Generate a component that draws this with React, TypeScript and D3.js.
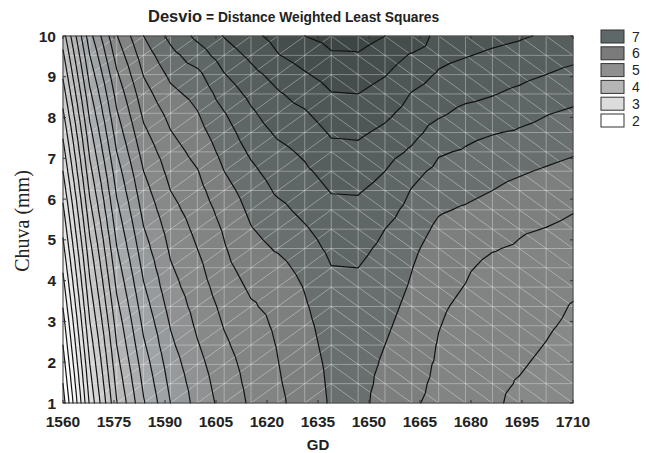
import * as d3 from "d3";

// grid nodes of the fitted surface (Distance Weighted Least Squares, 20 x 20)
const GD_NODES = [
  1560, 1567.9, 1575.8, 1583.7, 1591.6, 1599.5, 1607.4, 1615.3, 1623.2, 1631.1,
  1638.9, 1646.8, 1654.7, 1662.6, 1670.5, 1678.4, 1686.3, 1694.2, 1702.1, 1710,
];
const CHUVA_NODES = [
  1, 1.474, 1.947, 2.421, 2.895, 3.368, 3.842, 4.316, 4.789, 5.263,
  5.737, 6.211, 6.684, 7.158, 7.632, 8.105, 8.579, 9.053, 9.526, 10,
];

// Desvio values, rows from Chuva = 10 (top) down to Chuva = 1, columns GD 1560 -> 1710
const DESVIO = [
  [3.90, 4.93, 5.59, 6.00, 6.25, 6.445, 6.61, 6.745, 6.87, 7.00, 7.06, 7.08, 7.00, 6.96, 6.72, 6.69, 6.65, 6.62, 6.58, 6.54],
  [3.76, 4.80, 5.48, 5.90, 6.14, 6.30, 6.50, 6.64, 6.79, 6.89, 6.98, 6.985, 6.90, 6.78, 6.65, 6.61, 6.57, 6.54, 6.49, 6.45],
  [3.63, 4.68, 5.37, 5.81, 6.04, 6.15, 6.39, 6.54, 6.67, 6.78, 6.88, 6.89, 6.81, 6.68, 6.58, 6.53, 6.49, 6.45, 6.40, 6.35],
  [3.50, 4.56, 5.27, 5.72, 5.95, 6.06, 6.29, 6.45, 6.58, 6.67, 6.79, 6.80, 6.72, 6.59, 6.51, 6.45, 6.41, 6.36, 6.30, 6.26],
  [3.37, 4.45, 5.18, 5.64, 5.86, 5.99, 6.19, 6.37, 6.51, 6.58, 6.70, 6.71, 6.64, 6.53, 6.43, 6.35, 6.32, 6.26, 6.21, 6.17],
  [3.24, 4.34, 5.09, 5.56, 5.79, 5.93, 6.12, 6.30, 6.43, 6.50, 6.62, 6.63, 6.56, 6.46, 6.32, 6.25, 6.21, 6.18, 6.14, 6.09],
  [3.12, 4.24, 5.00, 5.48, 5.72, 5.86, 6.06, 6.23, 6.35, 6.43, 6.55, 6.555, 6.48, 6.37, 6.22, 6.18, 6.13, 6.10, 6.06, 6.02],
  [3.00, 4.14, 4.91, 5.40, 5.66, 5.79, 6.00, 6.16, 6.29, 6.37, 6.47, 6.48, 6.40, 6.26, 6.15, 6.11, 6.06, 6.02, 5.98, 5.94],
  [2.88, 4.04, 4.83, 5.33, 5.60, 5.74, 5.93, 6.09, 6.23, 6.31, 6.41, 6.415, 6.34, 6.19, 6.08, 6.05, 6.00, 5.95, 5.91, 5.87],
  [2.76, 3.94, 4.75, 5.26, 5.54, 5.69, 5.87, 6.04, 6.15, 6.25, 6.35, 6.355, 6.27, 6.14, 6.02, 5.98, 5.93, 5.87, 5.85, 5.81],
  [2.65, 3.84, 4.67, 5.19, 5.48, 5.645, 5.82, 5.99, 6.08, 6.18, 6.29, 6.295, 6.20, 6.09, 5.96, 5.91, 5.87, 5.82, 5.795, 5.76],
  [2.54, 3.74, 4.59, 5.12, 5.43, 5.60, 5.785, 5.935, 6.02, 6.12, 6.24, 6.245, 6.16, 6.04, 5.91, 5.86, 5.81, 5.78, 5.74, 5.72],
  [2.43, 3.65, 4.51, 5.05, 5.38, 5.55, 5.75, 5.88, 5.94, 6.06, 6.195, 6.20, 6.12, 6.005, 5.87, 5.82, 5.76, 5.74, 5.70, 5.67],
  [2.32, 3.56, 4.43, 4.98, 5.33, 5.51, 5.70, 5.83, 5.88, 6.01, 6.15, 6.175, 6.09, 5.98, 5.845, 5.795, 5.72, 5.705, 5.67, 5.63],
  [2.21, 3.47, 4.35, 4.91, 5.27, 5.47, 5.65, 5.78, 5.855, 5.98, 6.11, 6.15, 6.06, 5.95, 5.82, 5.77, 5.69, 5.685, 5.645, 5.59],
  [2.10, 3.38, 4.27, 4.84, 5.21, 5.43, 5.61, 5.73, 5.83, 5.955, 6.08, 6.13, 6.03, 5.92, 5.805, 5.75, 5.675, 5.665, 5.62, 5.57],
  [2.00, 3.29, 4.20, 4.77, 5.16, 5.385, 5.57, 5.70, 5.81, 5.935, 6.06, 6.11, 6.00, 5.89, 5.79, 5.735, 5.66, 5.64, 5.595, 5.54],
  [1.90, 3.20, 4.13, 4.70, 5.10, 5.34, 5.53, 5.67, 5.795, 5.915, 6.04, 6.09, 5.97, 5.86, 5.78, 5.72, 5.645, 5.615, 5.57, 5.51],
  [1.80, 3.12, 4.06, 4.64, 5.05, 5.30, 5.50, 5.65, 5.78, 5.90, 6.03, 6.08, 5.94, 5.84, 5.77, 5.71, 5.635, 5.59, 5.545, 5.48],
  [1.70, 3.04, 3.99, 4.58, 5.00, 5.27, 5.47, 5.63, 5.76, 5.89, 6.02, 6.07, 5.91, 5.82, 5.76, 5.70, 5.625, 5.565, 5.52, 5.46],
];

const LEVELS = [
  1.8, 2.0, 2.2, 2.4, 2.6, 2.8, 3.0, 3.2, 3.4, 3.6, 3.8, 4.0, 4.2, 4.4,
  4.6, 4.8, 5.0, 5.2, 5.4, 5.6, 5.8, 6.0, 6.2, 6.4, 6.6, 6.8, 7.0, 7.2,
];

const GD_TICKS = [1560, 1575, 1590, 1605, 1620, 1635, 1650, 1665, 1680, 1695, 1710];
const CHUVA_TICKS = [1, 2, 3, 4, 5, 6, 7, 8, 9, 10];

const LEGEND_LABELS = ["7", "6", "5", "4", "3", "2"];
const LEGEND_COLORS = ["#5f6868", "#7b7b7b", "#8f8f8f", "#b5b5b5", "#dcdcdc", "#ffffff"];

// palette used for the filled bands
const PALETTE_VALUES = [2, 3, 4, 4.9, 5.5, 5.95, 6.05, 6.5, 7.0, 7.2];
const PALETTE_COLORS = ["#ffffff", "#dedede", "#bcbcbc", "#9ea3a6", "#878888", "#7c7e7e", "#6b7171", "#565e5e", "#414949", "#394141"];

const W = 649;
const H = 453;
const X0 = 63, X1 = 573, Y0 = 36, Y1 = 403;
const SPLIT_COL = 10; // triangulation flips direction here
const SANS = "'Liberation Sans', Arial, sans-serif";

type P = [number, number, number];

function clip(poly: P[], level: number, above: boolean): P[] {
  const out: P[] = [];
  for (let k = 0; k < poly.length; k++) {
    const a = poly[k];
    const b = poly[(k + 1) % poly.length];
    const ina = above ? a[2] >= level : a[2] < level;
    const inb = above ? b[2] >= level : b[2] < level;
    if (ina) out.push(a);
    if (ina !== inb) {
      const t = (level - a[2]) / (b[2] - a[2]);
      out.push([a[0] + t * (b[0] - a[0]), a[1] + t * (b[1] - a[1]), level]);
    }
  }
  return out;
}

const f = (n: number) => n.toFixed(2);

export default function App() {
  const x = d3.scaleLinear().domain([1560, 1710]).range([X0, X1]);
  const y = d3.scaleLinear().domain([1, 10]).range([Y1, Y0]);
  const color = d3
    .scaleLinear<string>()
    .domain(PALETTE_VALUES)
    .range(PALETTE_COLORS)
    .clamp(true);

  const grid = [...DESVIO].reverse(); // grid[j][i], j = 0 at Chuva 1
  const pt = (i: number, j: number): P => [x(GD_NODES[i]), y(CHUVA_NODES[j]), grid[j][i]];

  const triangles: P[][] = [];
  for (let j = 0; j < CHUVA_NODES.length - 1; j++) {
    for (let i = 0; i < GD_NODES.length - 1; i++) {
      const a = pt(i, j), b = pt(i + 1, j), c = pt(i + 1, j + 1), d = pt(i, j + 1);
      if (i < SPLIT_COL) triangles.push([a, b, c], [a, c, d]);
      else triangles.push([a, b, d], [b, c, d]);
    }
  }

  // filled bands
  const edges = [-Infinity, ...LEVELS, Infinity];
  const bands = d3.range(edges.length - 1).map((k) => {
    const lo = edges[k], hi = edges[k + 1];
    let dstr = "";
    triangles.forEach((tri) => {
      let poly = tri;
      if (isFinite(lo)) poly = clip(poly, lo, true);
      if (poly.length >= 3 && isFinite(hi)) poly = clip(poly, hi, false);
      if (poly.length >= 3) {
        dstr += poly.map((p, n) => (n ? "L" : "M") + f(p[0]) + "," + f(p[1])).join("") + "Z";
      }
    });
    const mid = !isFinite(lo) ? hi - 0.1 : !isFinite(hi) ? lo + 0.1 : (lo + hi) / 2;
    return { d: dstr, fill: color(mid) };
  });

  // contour lines
  let lines = "";
  triangles.forEach((tri) => {
    LEVELS.forEach((L) => {
      const pts: [number, number][] = [];
      for (let k = 0; k < 3; k++) {
        const a = tri[k], b = tri[(k + 1) % 3];
        if ((a[2] >= L) !== (b[2] >= L)) {
          const t = (L - a[2]) / (b[2] - a[2]);
          pts.push([a[0] + t * (b[0] - a[0]), a[1] + t * (b[1] - a[1])]);
        }
      }
      if (pts.length === 2) {
        lines += `M${f(pts[0][0])},${f(pts[0][1])}L${f(pts[1][0])},${f(pts[1][1])}`;
      }
    });
  });

  // light triangulation mesh
  let mesh = "";
  GD_NODES.forEach((g) => (mesh += `M${f(x(g))},${Y0}V${Y1}`));
  CHUVA_NODES.forEach((c) => (mesh += `M${X0},${f(y(c))}H${X1}`));
  for (let j = 0; j < CHUVA_NODES.length - 1; j++) {
    for (let i = 0; i < GD_NODES.length - 1; i++) {
      const xa = x(GD_NODES[i]), xb = x(GD_NODES[i + 1]);
      const ya = y(CHUVA_NODES[j]), yb = y(CHUVA_NODES[j + 1]);
      mesh += i < SPLIT_COL ? `M${f(xa)},${f(ya)}L${f(xb)},${f(yb)}` : `M${f(xa)},${f(yb)}L${f(xb)},${f(ya)}`;
    }
  }

  return (
    <svg width={W} height={H} style={{ position: "absolute", left: 0, top: 0, background: "#fff" }}>
      <rect x={0} y={0} width={W} height={H} fill="#fff" />
      <text x={148} y={22} fontFamily={SANS} fontWeight="bold" fontSize={16.5} fill="#222">
        Desvio
        <tspan x={206} fontSize={13.8}>= Distance Weighted Least Squares</tspan>
      </text>

      {bands.map((b, k) => (
        <path key={k} d={b.d} fill={b.fill} stroke={b.fill} strokeWidth={0.4} />
      ))}
      <path d={mesh} stroke="#ffffff" strokeOpacity={0.34} strokeWidth={1} fill="none" />
      <path d={lines} stroke="#111" strokeWidth={1.2} fill="none" strokeLinecap="round" />
      <rect x={X0} y={Y0} width={X1 - X0} height={Y1 - Y0} fill="none" stroke="#333" strokeWidth={1} />

      {GD_TICKS.map((t) => (
        <g key={t}>
          <line x1={x(t)} x2={x(t)} y1={Y1} y2={Y1 - 3} stroke="#333" />
          <line x1={x(t)} x2={x(t)} y1={Y0} y2={Y0 + 3} stroke="#333" />
          <text x={x(t)} y={427} textAnchor="middle" fontFamily={SANS} fontWeight="bold" fontSize={15.5} fill="#222">
            {t}
          </text>
        </g>
      ))}
      {CHUVA_TICKS.map((t) => (
        <g key={t}>
          <line x1={X0} x2={X0 + 3} y1={y(t)} y2={y(t)} stroke="#333" />
          <line x1={X1} x2={X1 - 3} y1={y(t)} y2={y(t)} stroke="#333" />
          <text x={56} y={y(t) + 5.5} textAnchor="end" fontFamily={SANS} fontWeight="bold" fontSize={15.5} fill="#222">
            {t}
          </text>
        </g>
      ))}

      <text x={318} y={450} textAnchor="middle" fontFamily={SANS} fontWeight="bold" fontSize={15} fill="#222">
        GD
      </text>
      <text
        transform="translate(29,221) rotate(-90)"
        textAnchor="middle"
        fontFamily="'Liberation Serif', 'Times New Roman', serif"
        fontSize={20}
        fill="#222"
      >
        Chuva (mm)
      </text>

      {LEGEND_LABELS.map((lab, k) => (
        <g key={lab} transform={`translate(601,${30 + k * 16.8})`}>
          <rect x={0} y={0} width={23} height={13} fill={LEGEND_COLORS[k]} stroke="#333" strokeWidth={1} />
          <text x={31} y={11.5} fontFamily={SANS} fontSize={14} fill="#222">
            {lab}
          </text>
        </g>
      ))}
    </svg>
  );
}
